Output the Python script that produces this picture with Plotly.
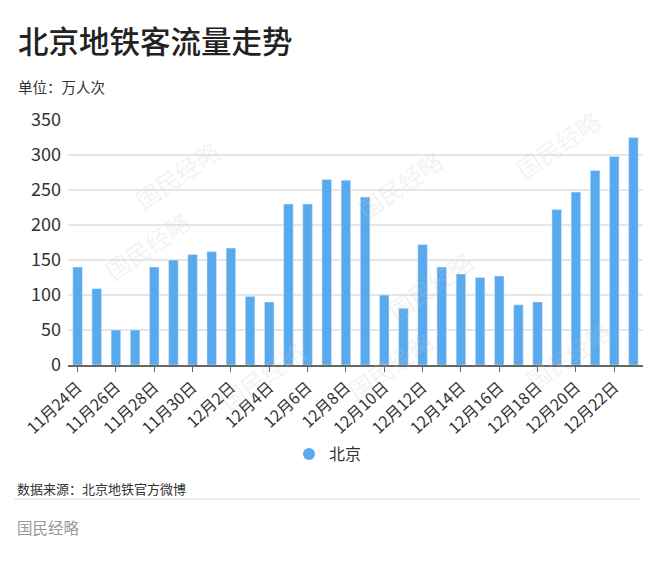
import plotly.graph_objects as go

dates = ["11月24日", "11月25日", "11月26日", "11月27日", "11月28日", "11月29日", "11月30日",
         "12月1日", "12月2日", "12月3日", "12月4日", "12月5日", "12月6日", "12月7日",
         "12月8日", "12月9日", "12月10日", "12月11日", "12月12日", "12月13日", "12月14日",
         "12月15日", "12月16日", "12月17日", "12月18日", "12月19日", "12月20日", "12月21日",
         "12月22日", "12月23日"]
values = [140, 109, 50, 50, 140, 150, 158, 162, 167, 98, 90, 230, 230, 265,
          264, 240, 100, 81, 172, 140, 130, 125, 127, 86, 90, 222, 247, 278, 298, 325]
tick_labels = dates[::2]
y_ticks = [0, 50, 100, 150, 200, 250, 300, 350]
series_name = "北京"

W, H = 660, 561
L, R, T, B = 68, 17, 120, 196
pw, ph = W - L - R, H - T - B

def px(x):
    return (x - L) / pw

def py(y):
    return (H - B - y) / ph

FONT = "Noto Sans CJK SC, Noto Sans, sans-serif"
BAR = "#58aaee"

fig = go.Figure()
fig.add_trace(go.Bar(x=dates, y=values, marker_color=BAR, width=0.5,
                     showlegend=False, name=series_name))
fig.add_trace(go.Scatter(x=[None], y=[None], mode="markers", name=series_name,
                         marker=dict(symbol="circle", size=11, color=BAR)))

fig.update_layout(
    width=W, height=H, margin=dict(l=L, r=R, t=T, b=B),
    paper_bgcolor="white", plot_bgcolor="white",
    font=dict(family=FONT, color="#333"),
    bargap=0.5,
    showlegend=True,
    legend=dict(orientation="h", x=px(328), xanchor="center", y=py(454), yanchor="middle",
                font=dict(size=16, color="#333"), itemsizing="constant", bgcolor="rgba(0,0,0,0)",
                itemwidth=30),
    xaxis=dict(type="category", categoryorder="array", categoryarray=dates,
               tickmode="array", tickvals=tick_labels, ticktext=tick_labels,
               tickangle=-43, tickfont=dict(size=16, color="#333"),
               showline=True, linecolor="#666", linewidth=1.5,
               ticks="outside", ticklen=5, tickcolor="#666", showgrid=False,
               range=[-0.5, len(dates) - 0.5]),
    yaxis=dict(range=[0, 350], tickvals=y_ticks, tickfont=dict(size=18, color="#333"),
               showgrid=True, gridcolor="#e6e6e6", gridwidth=1.5, zeroline=False,
               ticks="", showline=False, ticklabelstandoff=6),
)

# watermarks
wm = [(125, 130), (400, 140), (610, 100), (95, 290), (210, 420), (390, 410), (430, 330), (620, 400)]
for (x, y) in wm:
    fig.add_annotation(x=px(x), y=py(y), xref="paper", yref="paper", text="国民经略",
                       showarrow=False, textangle=-35, font=dict(size=24, color="rgba(200,200,200,0.22)"))

fig.add_annotation(x=px(16), y=py(40), xref="paper", yref="paper", xanchor="left", yanchor="middle",
                   text="北京地铁客流量走势", showarrow=False,
                   font=dict(size=30.5, color="#222", weight=500))
fig.add_annotation(x=px(16), y=py(87), xref="paper", yref="paper", xanchor="left", yanchor="middle",
                   text="单位：万人次", showarrow=False, font=dict(size=14.5, color="#333"))
fig.add_annotation(x=px(15), y=py(488), xref="paper", yref="paper", xanchor="left", yanchor="middle",
                   text="数据来源：北京地铁官方微博", showarrow=False, font=dict(size=13, color="#333"))
fig.add_annotation(x=px(15), y=py(527), xref="paper", yref="paper", xanchor="left", yanchor="middle",
                   text="国民经略", showarrow=False, font=dict(size=15.5, color="#999"))
fig.add_shape(type="line", xref="paper", yref="paper", x0=px(14), x1=px(640), y0=py(499), y1=py(499),
              line=dict(color="#dde3e6", width=1))

fig.write_html("out.html")
